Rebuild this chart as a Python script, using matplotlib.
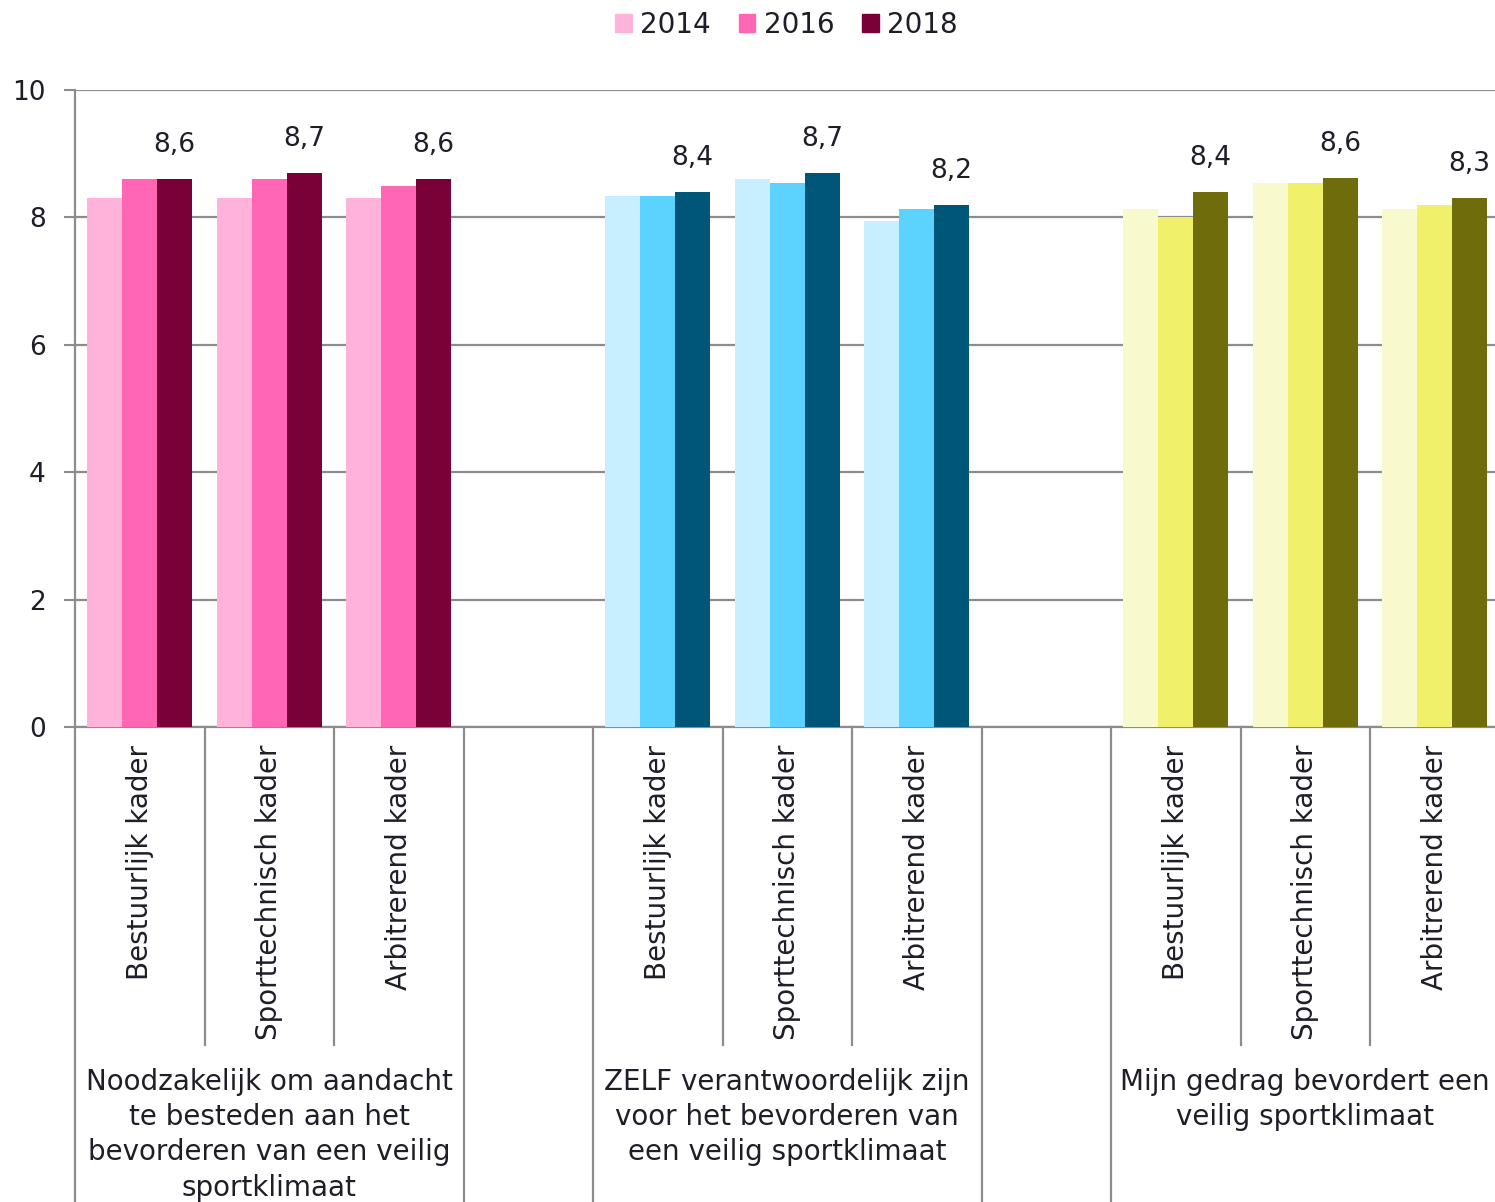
import numpy as np
import matplotlib
matplotlib.use('Agg')
import matplotlib.pyplot as plt
from matplotlib.patches import Patch

plt.rcParams['font.family'] = ['DejaVu Sans']

# data
years = ['2014', '2016', '2018']
categories = ['Bestuurlijk kader', 'Sporttechnisch kader', 'Arbitrerend kader']
groups = ['Noodzakelijk om aandacht\nte besteden aan het\nbevorderen van een veilig\nsportklimaat',
          'ZELF verantwoordelijk zijn\nvoor het bevorderen van\neen veilig sportklimaat',
          'Mijn gedrag bevordert een\nveilig sportklimaat']

# rows = category, columns = year
noodzakelijk = [[8.3, 8.6, 8.6],
                [8.3, 8.6, 8.7],
                [8.3, 8.5, 8.6]]
zelf = [[8.33, 8.33, 8.4],
        [8.6, 8.54, 8.7],
        [7.94, 8.13, 8.2]]
gedrag = [[8.13, 8.0, 8.4],
          [8.54, 8.54, 8.62],
          [8.13, 8.2, 8.3]]
group_values = [noodzakelijk, zelf, gedrag]

# colours per group (light, mid, dark)
group_colors = [['#ffb3da', '#ff66b3', '#7a0038'],
                ['#c7efff', '#5cd3ff', '#005678'],
                ['#f8f9cc', '#f0f06a', '#6f6d0b']]

txt = '#1e1e28'
grid_col = '#8c8c8c'

fig = plt.figure(figsize=(14.95, 12.02), dpi=100)
ax = fig.add_axes([75/1495, 1-727/1202, 1424.5/1495, 637/1202])

bw = 0.27
slot = 0
for g in range(3):
    for c in range(3):
        center = slot + 0.5
        for y in range(3):
            ax.bar(center + (y-1)*bw, group_values[g][c][y], width=bw,
                   color=group_colors[g][y], zorder=3)
        v = group_values[g][c][2]
        ax.annotate(('%.1f' % v).replace('.', ','), (center + bw, v),
                    xytext=(0, 15), textcoords='offset points',
                    ha='center', va='bottom', fontsize=19, color=txt)
        ax.text(center, -0.028, categories[c], rotation=90, ha='center', va='top',
                fontsize=20, color=txt, transform=ax.get_xaxis_transform())
        slot += 1
    slot += 1  # empty slot between groups

ax.set_xlim(0, 11)
ax.set_ylim(0, 10)
ax.set_yticks([0, 2, 4, 6, 8, 10])
ax.set_xticks([])
ax.tick_params(axis='y', length=8, width=1.5, color=grid_col, pad=13, labelsize=19, labelcolor=txt)
ax.yaxis.grid(True, color=grid_col, lw=1.6, zorder=0)
ax.set_axisbelow(True)
for s in ['top', 'right']:
    ax.spines[s].set_visible(False)
for s in ['left', 'bottom']:
    ax.spines[s].set_color(grid_col)
    ax.spines[s].set_linewidth(1.6)

# separators below the axis
trans = ax.get_xaxis_transform()
inner = [1, 2, 5, 6, 9, 10]
outer = [0, 3, 4, 7, 8]
for x in inner:
    ax.plot([x, x], [0, -0.499], color=grid_col, lw=1.6, transform=trans, clip_on=False)
for x in outer:
    ax.plot([x, x], [0, -0.76], color=grid_col, lw=1.6, transform=trans, clip_on=False)

# group labels
group_centers = [1.5, 5.5, 9.5]
for g in range(3):
    ax.text(group_centers[g], -0.535, groups[g], ha='center', va='top',
            fontsize=20, color=txt, transform=trans, linespacing=1.33)

handles = [Patch(color=group_colors[0][i]) for i in range(3)]
fig.legend(handles, years, loc='upper center', bbox_to_anchor=(0.526, 1.012), ncol=3,
           frameon=False, fontsize=20, handlelength=0.6, handleheight=0.6,
           handletextpad=0.3, columnspacing=1.0, labelcolor=txt)

fig.savefig('out.png', dpi=100)
